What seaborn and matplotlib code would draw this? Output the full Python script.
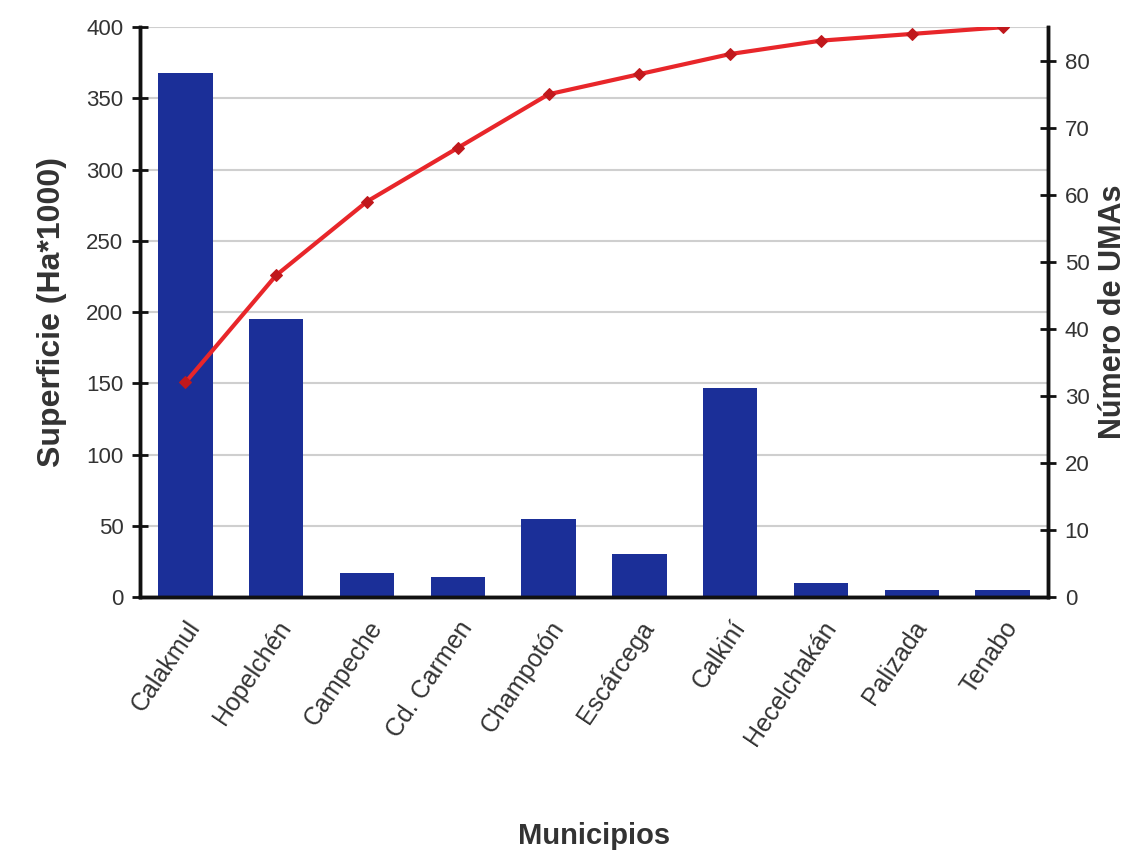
import matplotlib
matplotlib.use("Agg")
import matplotlib.pyplot as plt
import seaborn as sns
import pandas as pd
import numpy as np

municipios = ["Calakmul", "Hopelchén", "Campeche", "Cd. Carmen", "Champotón",
              "Escárcega", "Calkiní", "Hecelchakán", "Palizada", "Tenabo"]
superficie = [368, 195, 17, 14, 55, 30, 147, 10, 5, 5]
umas_acum = [32, 48, 59, 67, 75, 78, 81, 83, 84, 85]
left_ticks = [0, 50, 100, 150, 200, 250, 300, 350, 400]
right_ticks = [0, 10, 20, 30, 40, 50, 60, 70, 80]

sns.set_style("white")
plt.rcParams['font.family'] = ['Liberation Sans', 'DejaVu Sans']

df = pd.DataFrame({"Municipio": municipios, "Superficie": superficie, "UMAs": umas_acum})

fig = plt.figure(figsize=(11.41, 8.51), dpi=100)
ax = fig.add_axes([0.1227, 0.2985, 0.7958, 0.6695])

txt = "#333333"
sns.barplot(data=df, x="Municipio", y="Superficie", color="#1b2f98", saturation=1,
            width=0.6, ax=ax, zorder=2)
for p in ax.patches:
    p.set_edgecolor("none")
ax.set_ylim(0, 400)
ax.set_xlim(-0.5, len(municipios) - 0.5)
ax.set_yticks(left_ticks)
ax.yaxis.grid(True, color="#cfcfcf", linewidth=1.5, zorder=0)
ax.set_axisbelow(True)

ax2 = ax.twinx()
sns.lineplot(data=df, x="Municipio", y="UMAs", ax=ax2, color="#e8262a", linewidth=3,
             marker="D", markersize=6, markerfacecolor="#c0181c", markeredgecolor="#c0181c",
             sort=False, zorder=3)
ax2.set_ylim(0, 85)
ax2.set_yticks(right_ticks)
ax2.set_xlim(-0.5, len(municipios) - 0.5)

# spines
for a in (ax, ax2):
    a.spines["top"].set_visible(False)
    for s in ("left", "right", "bottom"):
        a.spines[s].set_linewidth(2.5)
        a.spines[s].set_color("#111111")

# x ticks: labels at centers, tick marks at boundaries
ax.set_xticks(range(len(municipios)))
ax.set_xticklabels(municipios, rotation=56, ha="right", rotation_mode="anchor",
                   fontsize=18, color=txt)
ax.tick_params(axis="x", which="major", length=0, pad=14)
ax.set_xticks(np.arange(-0.5, len(municipios)), minor=True)
ax.tick_params(axis="x", which="minor", direction="inout", length=12, width=2, color="#111111")

ax.tick_params(axis="y", direction="inout", length=12, width=2, color="#111111",
               labelsize=16, labelcolor=txt, pad=6)
ax2.tick_params(axis="y", direction="inout", length=12, width=2, color="#111111",
                labelsize=16, labelcolor=txt, pad=6)

ax.set_xlabel("Municipios", fontsize=21, fontweight="bold", color=txt, labelpad=52)
ax.set_ylabel("Superficie (Ha*1000)", fontsize=23, fontweight="bold", color=txt, labelpad=14)
ax2.set_ylabel("Número de UMAs", fontsize=22, fontweight="bold", color=txt, labelpad=6)
ax2.grid(False)

fig.savefig("out.png", dpi=100, facecolor="white")
